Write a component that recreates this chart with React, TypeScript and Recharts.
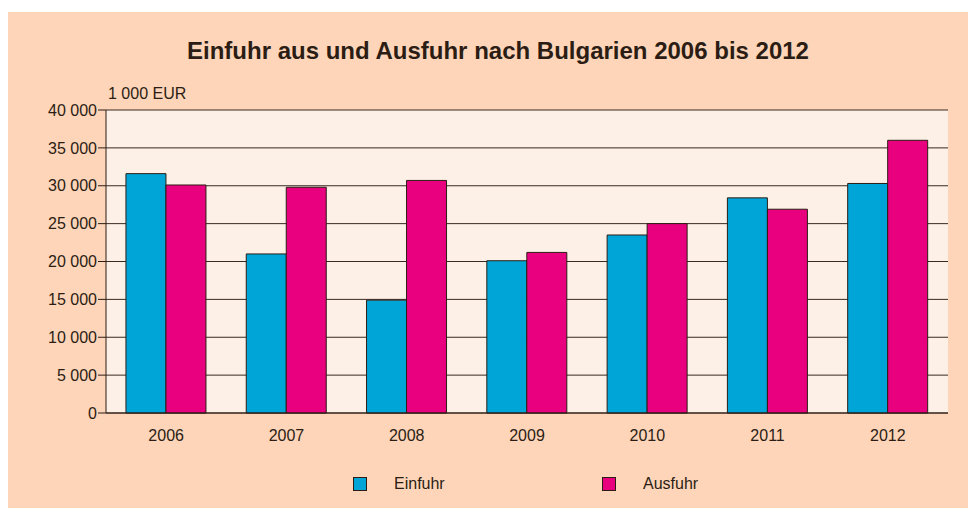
import { BarChart, Bar, XAxis, YAxis, CartesianGrid, Legend } from "recharts";

const years = ["2006", "2007", "2008", "2009", "2010", "2011", "2012"];
const einfuhr = [31600, 21000, 14900, 20100, 23500, 28400, 30300];
const ausfuhr = [30100, 29800, 30700, 21200, 25000, 26900, 36000];
const yTicks = [0, 5000, 10000, 15000, 20000, 25000, 30000, 35000, 40000];

const seriesNames = { einfuhr: "Einfuhr", ausfuhr: "Ausfuhr" };
const colors = { einfuhr: "#00a5d8", ausfuhr: "#e9007f" };

const data = years.map((year, i) => ({
  year,
  einfuhr: einfuhr[i],
  ausfuhr: ausfuhr[i],
}));

const ink = "#2b1d14";
const font = "'Liberation Sans', Arial, sans-serif";

// German style thousands: "35 000"
const fmt = (v: number) => String(v).replace(/\B(?=(\d{3})+(?!\d))/g, " ");

const LegendBox = () => (
  <div style={{ display: "flex", paddingLeft: 345, height: 36, alignItems: "center", fontFamily: font, fontSize: 16, color: ink }}>
    {(["einfuhr", "ausfuhr"] as const).map((key) => (
      <div key={key} style={{ display: "flex", alignItems: "center", width: 249 }}>
        <span style={{ width: 12, height: 12, background: colors[key], border: `1px solid ${ink}`, marginRight: 27 }} />
        <span>{seriesNames[key]}</span>
      </div>
    ))}
  </div>
);

export default function App() {
  return (
    <div style={{ position: "relative", width: 968, height: 496, marginTop: 4, background: "#fed5b9", fontFamily: font }}>
      <div style={{ position: "absolute", top: 25, left: 0, width: 980, textAlign: "center", fontSize: 24, fontWeight: "bold", color: ink }}>
        Einfuhr aus und Ausfuhr nach Bulgarien 2006 bis 2012
      </div>
      <div style={{ position: "absolute", top: 73, left: 100, fontSize: 16, color: ink }}>1 000 EUR</div>
      <BarChart
        width={968}
        height={496}
        data={data}
        margin={{ top: 98, right: 28, left: 0, bottom: 6 }}
        barCategoryGap="16.6%"
        barGap={0}
      >
        <CartesianGrid vertical={false} stroke="#3a2a20" fill="#fdf0e6" yAxisId="left" />
        <XAxis
          dataKey="year"
          tickLine={false}
          tickSize={6}
          tickMargin={11}
          height={53}
          axisLine={{ stroke: ink }}
          tick={{ fill: ink, fontSize: 16, fontFamily: font }}
        />
        <YAxis
          yAxisId="left"
          width={98}
          domain={[0, 40000]}
          ticks={yTicks}
          tickFormatter={fmt}
          tickSize={8}
          tickMargin={1}
          axisLine={{ stroke: ink }}
          tickLine={{ stroke: ink }}
          tick={{ fill: ink, fontSize: 16, fontFamily: font }}
        />
        <YAxis
          yAxisId="right"
          orientation="right"
          width={0}
          domain={[0, 40000]}
          ticks={yTicks}
          tick={false}
          tickLine={false}
          axisLine={{ stroke: ink }}
        />
        <Legend verticalAlign="bottom" wrapperStyle={{ left: 0, width: 968 }} content={<LegendBox />} />
        <Bar yAxisId="left" dataKey="einfuhr" name={seriesNames.einfuhr} fill={colors.einfuhr} stroke={ink} strokeWidth={1} isAnimationActive={false} />
        <Bar yAxisId="left" dataKey="ausfuhr" name={seriesNames.ausfuhr} fill={colors.ausfuhr} stroke={ink} strokeWidth={1} isAnimationActive={false} />
      </BarChart>
    </div>
  );
}
